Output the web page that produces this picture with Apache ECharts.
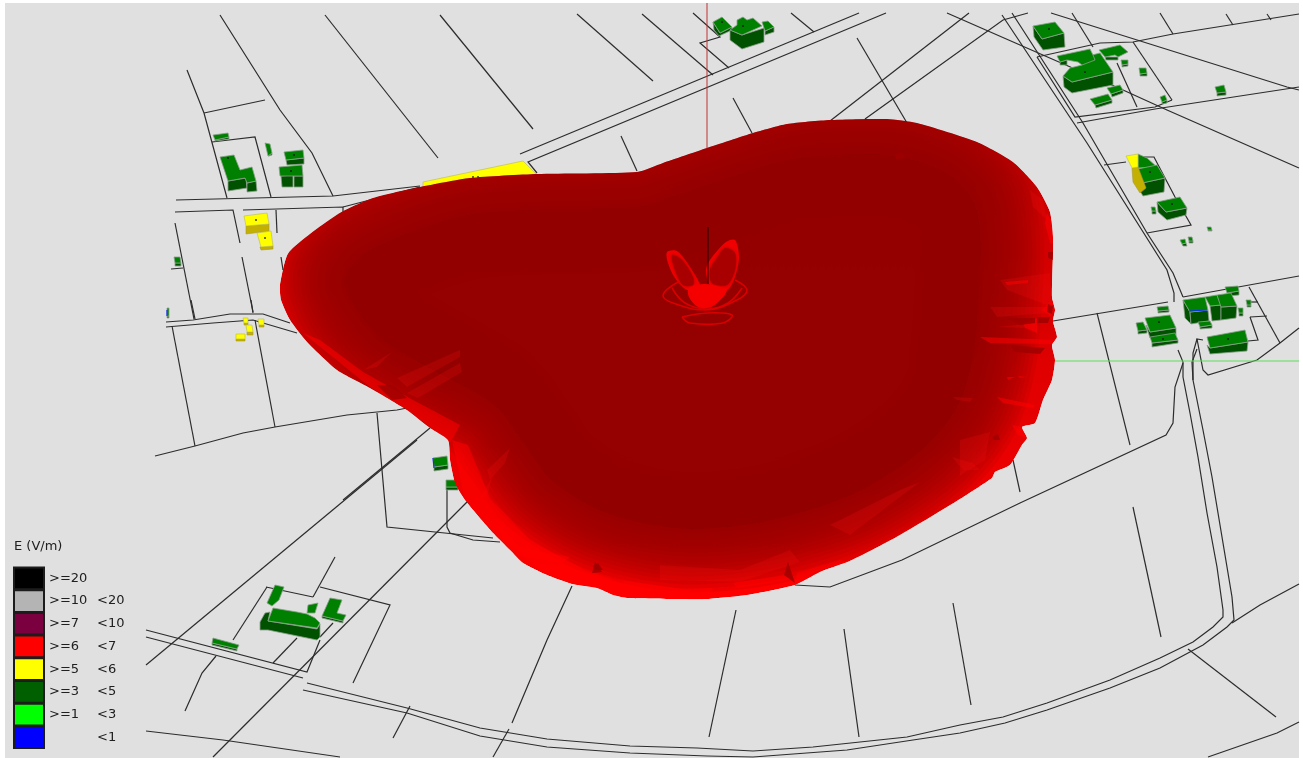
<!DOCTYPE html>
<html><head><meta charset="utf-8">
<style>html,body{margin:0;padding:0;background:#fff}#c{width:1303px;height:758px}#c canvas{filter:blur(.35px)}</style>
<script src="https://cdn.jsdelivr.net/npm/echarts@6/dist/echarts.min.js"></script>
</head><body><div id="c"></div>
<script>
const legendColors=['#000000','#b4b4b4','#7a0040','#ff0000','#ffff00','#006000','#00ff00','#0000ff'];
const legendLow=['>=20','>=10','>=7','>=6','>=5','>=3','>=1',''];
const legendHigh=['','<20','<10','<7','<6','<5','<3','<1'];
const roads=[
[[577,14],[653,81]],[[642,14],[713,75]],[[693,13],[720,37],[700,43],[729,68]],
[[520,154],[859,13]],[[537,173],[528,162],[886,13]],[[791,13],[814,32]],
[[440,15],[533,129]],[[325,15],[438,158]],[[220,15],[280,110],[312,153],[333,196]],
[[621,136],[637,171]],[[733,98],[752,133]],[[857,38],[907,123]],[[830,121],[969,13]],[[865,119],[1003,20],[1028,13]],
[[947,13],[1020,45],[1123,90],[1167,110],[1299,168]],[[1051,13],[1287,87],[1299,90]],
[[1072,13],[1093,47]],[[1160,13],[1173,34]],[[1226,14],[1233,25]],[[1267,14],[1271,20]],
[[1037,57],[1100,43],[1133,42],[1173,34],[1299,14]],
[[1037,57],[1075,117],[1155,107],[1172,100]],[[1077,123],[1155,109],[1299,87]],
[[1133,42],[1172,100]],[[1117,63],[1137,107]],
[[1002,15],[1087,143],[1167,270],[1174,293],[1174,302]],[[1012,13],[1083,123],[1147,233],[1173,273],[1183,297]],
[[1104,165],[1126,162]],[[1143,157],[1154,157],[1175,197],[1191,225],[1147,233]],
[[1183,297],[1299,276]],[[1053,321],[1168,302]],[[1097,313],[1130,445]],
[[1249,287],[1280,343]],[[1250,317],[1267,316]],[[1250,317],[1258,340],[1248,341]],[[1248,302],[1258,302]],
[[1203,340],[1197,339],[1203,370],[1208,375],[1257,360],[1280,343],[1299,328]],
[[1197,339],[1193,353],[1193,380]],
[[1178,350],[1183,362],[1183,377],[1190,413],[1198,457],[1207,513],[1217,567],[1223,610],[1223,617],[1213,627],[1193,642],[1160,658],[1110,680],[1047,703],[1003,717],[960,725],[907,737],[813,747],[753,751],[697,748],[630,746],[547,739],[480,728],[407,708],[307,683]],
[[1197,349],[1192,362],[1193,380],[1203,430],[1212,477],[1223,543],[1232,597],[1234,620],[1227,627],[1203,645],[1160,668],[1110,688],[1047,710],[1005,723],[960,733],[913,740],[847,750],[753,757],[707,756],[630,753],[547,747],[480,736],[407,713],[303,690]],
[[146,630],[307,672],[320,640]],[[146,637],[303,678]],
[[267,587],[233,640]],[[266,587],[313,597]],[[320,587],[390,605],[353,683]],
[[146,665],[417,440]],[[213,757],[467,502]],
[[335,557],[313,597]],[[297,638],[273,663]],[[333,623],[320,637]],
[[216,656],[202,673],[185,711]],[[146,731],[223,740],[340,757]],
[[410,706],[393,738]],[[509,729],[493,757]],[[512,723],[547,640],[572,586]],
[[709,737],[736,610]],[[859,737],[844,629]],[[971,705],[953,603]],
[[795,585],[830,587],[902,560],[960,532],[1020,503],[1166,435],[1173,423],[1175,387],[1183,363]],
[[1133,507],[1161,637]],[[1188,649],[1276,717]],[[1013,460],[1020,492]],
[[1299,584],[1260,605],[1232,623]],[[1299,722],[1277,733],[1208,757]],
[[155,456],[195,446],[243,433],[275,427],[347,415],[397,410],[407,408]],
[[172,326],[195,446]],[[255,320],[275,427]],[[377,413],[387,527],[493,538]],
[[447,490],[447,527],[450,533],[473,540],[500,542]],
[[343,500],[430,428]],
[[166,322],[193,320],[230,314],[263,314],[290,323]],[[166,327],[213,323],[253,320],[297,333]],
[[191,300],[195,319]],[[251,300],[253,313]],
[[176,200],[333,196],[420,186]],[[175,212],[233,210],[240,243]],[[242,257],[253,312]],
[[243,210],[343,207],[343,212]],[[343,207],[420,187]],[[276,210],[277,233]],[[281,257],[283,270]],
[[187,70],[204,113],[227,198]],[[204,113],[265,100]],[[212,142],[255,137],[271,197]],
[[175,223],[194,319]],[[171,269],[183,268]]
];
const greenTops=[
[[1033,26],[1055,22],[1064,33],[1042,39]],
[[1063,76],[1070,68],[1082,65],[1080,58],[1100,53],[1113,72],[1072,82]],
[[1057,56],[1090,49],[1093,55],[1095,60],[1082,65],[1078,62],[1067,60],[1060,62]],
[[1099,50],[1120,45],[1128,52],[1118,57],[1115,55],[1105,57]],
[[1121,60],[1128,60],[1128,64],[1122,65]],
[[1107,88],[1120,85],[1123,90],[1111,94]],[[1090,99],[1108,94],[1112,100],[1095,105]],
[[1139,68],[1146,68],[1147,73],[1140,74]],[[1160,97],[1165,95],[1167,100],[1162,102]],
[[1215,87],[1224,85],[1226,92],[1217,93]],
[[1138,154],[1147,158],[1157,167],[1138,168]],
[[1133,170],[1157,165],[1165,178],[1142,183]],[[1157,202],[1180,197],[1187,208],[1166,212]],
[[1151,207],[1155,207],[1156,211],[1152,211]],[[1207,227],[1211,227],[1212,230],[1208,230]],
[[1180,240],[1185,239],[1186,243],[1182,244]],[[1188,237],[1192,237],[1193,241],[1189,241]],
[[1225,287],[1238,286],[1239,291],[1227,293]],
[[1183,300],[1205,297],[1208,310],[1190,312]],[[1205,297],[1217,295],[1221,305],[1210,306]],
[[1217,295],[1231,293],[1237,306],[1221,307]],[[1198,322],[1210,321],[1212,325],[1200,327]],
[[1246,300],[1251,300],[1251,305],[1247,305]],[[1238,308],[1243,308],[1243,313],[1239,313]],
[[1207,337],[1245,330],[1248,342],[1210,348]],[[1157,307],[1168,306],[1169,310],[1158,311]],
[[1145,318],[1170,315],[1176,328],[1150,332]],[[1150,337],[1175,333],[1178,340],[1152,343]],
[[1136,323],[1143,322],[1147,330],[1138,331]],
[[713,22],[722,17],[732,27],[720,33]],
[[730,30],[737,25],[737,20],[743,17],[747,20],[753,18],[762,26],[742,35]],
[[762,22],[768,21],[774,27],[765,31]],
[[213,135],[228,133],[229,137],[215,140]],[[265,143],[270,144],[272,153],[268,156]],
[[220,157],[234,155],[240,170],[252,167],[256,181],[247,183],[245,178],[228,181]],
[[284,152],[303,150],[304,158],[286,160]],[[279,167],[302,165],[303,176],[280,176]],
[[174,257],[180,257],[181,263],[175,263]],[[167,308],[169,308],[169,316],[167,316]],
[[433,458],[447,456],[448,465],[434,467]],[[446,480],[457,480],[458,487],[446,487]],
[[275,585],[284,587],[279,600],[272,606],[267,603]],
[[273,608],[297,612],[307,614],[315,618],[320,623],[317,628],[268,621]],
[[308,605],[318,603],[315,613],[307,613]],
[[330,598],[342,600],[337,613],[346,615],[343,621],[322,616]],
[[213,638],[239,645],[237,649],[212,643]]
];
const greenSides=[
[[1042,39],[1064,33],[1065,47],[1043,50],[1034,37],[1033,26]],
[[1063,76],[1072,82],[1113,72],[1113,85],[1072,93],[1064,87]],
[[1060,62],[1067,60],[1067,65],[1060,65]],[[1105,57],[1118,57],[1118,60],[1106,60]],
[[1122,65],[1128,64],[1128,66],[1122,67]],[[1111,94],[1123,90],[1123,93],[1112,97]],
[[1095,105],[1112,100],[1112,103],[1096,108]],[[1140,74],[1147,73],[1147,76],[1140,76]],
[[1162,102],[1167,100],[1167,103],[1162,104]],[[1217,93],[1226,92],[1226,95],[1217,96]],
[[1142,183],[1165,178],[1164,192],[1143,196],[1135,183]],
[[1157,202],[1166,212],[1187,208],[1186,215],[1167,220],[1158,212]],
[[1152,211],[1156,211],[1156,214],[1152,214]],[[1208,230],[1212,230],[1212,231],[1208,231]],
[[1182,244],[1186,243],[1187,246],[1183,246]],[[1189,241],[1193,241],[1193,243],[1189,243]],
[[1227,293],[1239,291],[1239,295],[1228,296]],
[[1183,300],[1190,312],[1191,324],[1185,318]],
[[1190,312],[1208,310],[1209,321],[1191,324]],[[1210,306],[1221,305],[1221,320],[1212,321]],
[[1221,307],[1237,306],[1236,318],[1221,320]],[[1200,327],[1212,325],[1212,328],[1200,329]],
[[1247,305],[1251,305],[1251,307],[1247,307]],[[1239,313],[1243,313],[1243,316],[1239,316]],
[[1210,348],[1248,342],[1247,351],[1210,354],[1207,345]],[[1158,311],[1169,310],[1169,312],[1158,313]],
[[1150,332],[1176,328],[1176,335],[1150,338],[1146,325]],[[1152,343],[1178,340],[1178,343],[1152,347]],
[[1138,331],[1147,330],[1147,333],[1138,334]],
[[713,22],[720,33],[732,27],[732,30],[719,36],[714,30]],
[[730,30],[742,35],[764,28],[764,42],[742,49],[730,40]],
[[765,31],[774,27],[774,32],[765,35]],
[[215,140],[229,137],[229,139],[215,141]],[[268,156],[272,153],[272,155],[269,156]],
[[228,181],[246,178],[247,188],[228,191]],[[247,183],[256,181],[257,191],[247,192]],
[[286,160],[304,158],[304,164],[287,165]],[[281,176],[293,175],[293,187],[282,187]],
[[294,176],[303,176],[303,187],[294,187]],
[[175,263],[181,263],[181,266],[175,266]],[[167,316],[169,316],[169,318],[167,318]],
[[434,467],[448,465],[448,469],[434,471]],[[446,487],[458,487],[458,490],[446,490]],
[[268,621],[317,629],[320,624],[320,637],[317,640],[268,630],[260,630],[260,622],[265,613],[270,612]],
[[322,616],[343,621],[343,623],[322,618]],[[212,643],[237,649],[237,651],[212,645]]
];
const yellowTops=[
[[1126,156],[1138,154],[1138,167],[1132,168]],
[[244,216],[267,213],[269,224],[246,226]],[[257,233],[271,231],[273,246],[261,247]],
[[423,182],[523,161],[537,175],[423,190]],
[[243,318],[248,318],[248,323],[244,323]],[[258,319],[264,319],[264,325],[259,325]],
[[246,325],[252,325],[253,332],[247,332]],[[236,334],[245,334],[245,339],[236,339]]
];
const yellowSides=[
[[1132,168],[1138,167],[1146,188],[1140,193],[1133,182]],
[[246,226],[269,224],[269,231],[246,234]],[[260,247],[273,246],[273,249],[261,250]],
[[244,323],[248,323],[248,325],[244,325]],[[259,325],[264,325],[264,327],[259,327]],
[[247,332],[253,332],[253,335],[247,335]],[[236,339],[245,339],[245,341],[236,341]]
];
const blueEdges=[[[1189,311],[1207,310]],[[433,458],[434,468]],[[167,310],[167,316]]];
const roofDots=[[473,177],[478,177],[483,178],[488,178],[256,220],[265,238],[228,158],[294,155],[291,171],[1049,29],[1085,72],[1150,172],[1172,204],[1159,322],[1163,339],[1228,339],[743,26],[722,22]];
const blob=[[280,285],[289,252],[338,214],[373,198],[420,187],[470,178],[537,174],[637,172],[663,163],[707,148],[753,133],[787,124],[830,120],[887,119],[917,123],[977,142],[1013,162],[1037,187],[1050,212],[1053,237],[1053,253],[1052,297],[1055,310],[1053,321],[1057,337],[1052,345],[1055,360],[1052,380],[1043,400],[1035,423],[1022,427],[1027,438],[1022,445],[1010,465],[995,472],[992,478],[960,499],[900,535],[852,560],[820,572],[795,585],[747,595],[707,599],[677,599],[627,598],[613,595],[597,588],[572,584],[547,575],[523,563],[510,550],[493,533],[465,500],[455,483],[450,460],[448,440],[430,428],[407,410],[370,388],[337,370],[307,342],[290,320],[281,300]];
const core=[[345,285],[360,258],[405,235],[470,215],[540,210],[640,207],[672,197],[720,181],[790,160],[880,155],[940,170],[972,200],[980,240],[978,300],[972,360],[955,410],[915,455],[850,495],[760,522],[680,528],[605,512],[552,480],[522,440],[495,405],[425,365],[378,335]];
const streaksBright=[
[[452,440],[465,500],[510,550],[570,583],[627,596],[640,588],[585,570],[530,540],[490,498],[468,445]],
[[627,588],[667,590],[713,588],[710,593],[667,594],[630,592]],
[[733,583],[787,575],[790,580],[737,588]],
[[797,573],[840,560],[850,562],[820,570],[795,582]],
[[530,563],[580,570],[613,580],[593,583],[550,575]],
[[497,523],[520,547],[570,557],[563,563],[527,557],[503,540]],
[[620,580],[690,590],[690,593],[637,592]],
[[303,333],[370,387],[407,410],[430,427],[450,443],[460,425],[413,400],[363,372],[320,340]],
[[1023,323],[1037,318],[1037,333],[1025,328]],
[[1047,213],[1053,223],[1053,243],[1050,243],[1045,223]],
[[1052,300],[1055,310],[1050,316],[1042,310]],
[[1012,425],[1022,427],[1027,438],[1018,435]],
[[997,397],[1035,405],[1033,408],[1003,403]],
[[1007,377],[1015,377],[1008,380]],[[1018,376],[1027,377],[1020,378]],
[[1005,282],[1028,280],[1028,283],[1007,285]],
[[980,337],[1055,340],[1052,344],[990,343]]
];
const streaksMid=[
[[1000,280],[1050,273],[1052,307],[1007,290]],
[[1030,190],[1043,200],[1047,220],[1033,207]],
[[990,307],[1050,307],[1050,313],[997,317]],
[[997,327],[1037,323],[1037,333],[1027,328]],
[[953,397],[973,398],[970,402],[957,400]],
[[952,457],[973,463],[980,470],[963,470]],
[[397,378],[460,350],[460,357],[407,387]],
[[407,393],[460,363],[462,372],[418,398]],
[[363,370],[392,352],[377,367]],
[[487,470],[510,448],[505,463],[490,480]],
[[480,497],[492,477],[487,497]],
[[660,565],[740,570],[790,550],[800,562],[740,582],[660,580]],
[[830,525],[900,490],[920,482],[850,535]],
[[960,440],[990,432],[985,460],[960,476]]
];
const streaksDark=[
[[1005,318],[1035,318],[1035,323],[1020,325]],
[[1037,317],[1050,317],[1048,323],[1037,323]],
[[1048,252],[1053,252],[1053,260],[1048,258]],
[[1048,304],[1053,306],[1052,314],[1047,312]],
[[377,385],[393,385],[407,398],[392,400]],
[[592,573],[595,562],[602,572]],
[[784,575],[788,562],[795,583]],
[[593,566],[598,563],[603,570],[596,570]],
[[992,437],[998,434],[1000,440],[994,440]],
[[895,155],[902,153],[905,158],[896,159]],
[[1010,345],[1045,348],[1040,354],[1015,352]]
];
const petalsOuter=[
[[667,252],[677,251],[692,270],[700,287],[687,290],[675,278],[668,263]],
[[726,242],[735,240],[739,257],[735,277],[727,290],[710,285],[706,270],[710,260]]
];
const petalsInner=[
[[672,255],[682,260],[693,277],[693,285],[683,285],[675,270]],
[[725,248],[735,253],[735,270],[727,285],[712,283],[710,270],[717,258]]
];
const bulb=[[688,290],[703,284],[720,287],[727,290],[717,303],[707,308],[695,305]];
const rings=[
[[678,282],[663,295],[673,303],[707,310],[737,300],[747,290],[735,280]],
[[672,288],[685,303],[707,309],[728,303],[742,288]],
[[682,317],[707,313],[732,315],[723,323],[690,323],[682,317]]
];
const poleAbove=[[707,3],[707,148]];
const poleInside=[[708,227],[708,284]];
const greenAxis=[[1055,361],[1299,361]];
const frame=[[5,3],[1299,3],[1299,758],[5,758]];
const shadeWidths=[128,120,112,104,96,88,80,72,64,56,48,40,32,24,16,8];

function pts(api,p){return p.map(q=>api.coord(q));}
function polySeries(name,polys,style,z,smooth){
  return {type:'custom',name,coordinateSystem:'cartesian2d',clip:false,silent:true,z,
    data:polys.map(p=>p[0]),
    renderItem:(params,api)=>({type:'polygon',shape:{points:pts(api,polys[params.dataIndex]),smooth:smooth||0},style:style})};
}
function lineSeries(name,lines,style,z,smooth){
  return {type:'custom',name,coordinateSystem:'cartesian2d',clip:false,silent:true,z,
    data:lines.map(p=>p[0]),
    renderItem:(params,api)=>({type:'polyline',shape:{points:pts(api,lines[params.dataIndex]),smooth:smooth||0},style:Object.assign({fill:null},style)})};
}
const edge={stroke:'#8d9f8d',lineWidth:0.8};
const blobSeries={type:'custom',name:'field',coordinateSystem:'cartesian2d',clip:false,silent:true,z:5,
  data:[blob[0]],
  renderItem:(params,api)=>{
    const outline=pts(api,blob),inner=pts(api,core),kids=[];
    kids.push({type:'polygon',shape:{points:outline,smooth:.2},style:{fill:{type:'linear',x:0,y:120,x2:0,y2:600,global:true,colorStops:[{offset:0,color:'#c40000'},{offset:.45,color:'#dc0000'},{offset:.8,color:'#f00000'},{offset:1,color:'#ff0000'}]}}});
    shadeWidths.forEach(w=>kids.push({type:'polygon',shape:{points:inner,smooth:.3},style:{fill:'#920000',stroke:'#920000',lineWidth:w,lineJoin:'round',opacity:.13}}));
    kids.push({type:'polygon',shape:{points:inner,smooth:.3},style:{fill:'#920000',opacity:.6}});
    streaksMid.forEach(s=>kids.push({type:'polygon',shape:{points:pts(api,s)},style:{fill:'#ff1010',opacity:.2}}));
    streaksBright.forEach(s=>kids.push({type:'polygon',shape:{points:pts(api,s)},style:{fill:'#ff0000',opacity:.55}}));
    streaksDark.forEach(s=>kids.push({type:'polygon',shape:{points:pts(api,s)},style:{fill:'#a00000',opacity:.85}}));
    return {type:'group',clipPath:{type:'polygon',shape:{points:outline,smooth:.2}},children:kids};
  }};
const series=[
  polySeries('frame',[frame],{fill:'#e0e0e0'},1),
  lineSeries('roads',roads,{stroke:'#2c2c2c',lineWidth:1.2},2),
  polySeries('greenSides',greenSides,Object.assign({fill:'#005200'},edge),3),
  polySeries('greenTops',greenTops,Object.assign({fill:'#008000'},edge),3),
  polySeries('yellowSides',yellowSides,{fill:'#c4b000',stroke:'#a89a30',lineWidth:0.6},3),
  polySeries('yellowTops',yellowTops,{fill:'#ffff00',stroke:'#b8b850',lineWidth:0.6},3),
  lineSeries('blueEdges',blueEdges,{stroke:'#1030f0',lineWidth:1.2},4),
  {type:'scatter',name:'roofDots',data:roofDots,symbolSize:2,itemStyle:{color:'#101010'},silent:true,z:4,clip:false},
  lineSeries('greenAxis',[greenAxis],{stroke:'#58e058',lineWidth:1},4),
  lineSeries('poleAbove',[poleAbove],{stroke:'#c03030',lineWidth:1},4),
  blobSeries,
  lineSeries('rings',rings,{stroke:'#e80000',lineWidth:1.6,opacity:.8},10,.4),
  polySeries('petalsOuter',petalsOuter,{fill:'#f00000'},11,.3),
  polySeries('petalsInner',petalsInner,{fill:'#a80000',shadowColor:'#a80000',shadowBlur:3},12,.3),
  polySeries('bulb',[bulb],{fill:'#f40000'},13,.4),
  lineSeries('poleInside',[poleInside],{stroke:'#200000',lineWidth:1},14),
  {type:'custom',name:'legend',coordinateSystem:'cartesian2d',clip:false,silent:true,z:20,
   data:legendColors.map((c,i)=>[13,567+i*22.7]),
   renderItem:(params,api)=>{
     const i=params.dataIndex,a=api.coord([14,567.5+i*22.7]),b=api.coord([44,589.2+i*22.7]);
     const f={fontFamily:'DejaVu Sans',fontSize:13,fill:'#202020',verticalAlign:'middle'};
     const my=(a[1]+b[1])/2;
     return {type:'group',children:[
       {type:'rect',shape:{x:a[0],y:a[1],width:b[0]-a[0],height:b[1]-a[1]},style:{fill:legendColors[i],stroke:'#1c1c1c',lineWidth:2}},
       {type:'text',style:Object.assign({x:49,y:my,text:legendLow[i]},f)},
       {type:'text',style:Object.assign({x:97,y:my,text:legendHigh[i]},f)}
     ]};
   }},
  {type:'custom',name:'legendTitle',coordinateSystem:'cartesian2d',clip:false,silent:true,z:20,
   data:[[14,547]],
   renderItem:(params,api)=>{const p=api.coord([14,547]);return {type:'text',style:{x:p[0],y:p[1],text:'E (V/m)',fontFamily:'DejaVu Sans',fontSize:13,fill:'#202020',verticalAlign:'middle'}};}}
];
const chart=echarts.init(document.getElementById('c'),null,{renderer:'canvas'});
chart.setOption({animation:false,backgroundColor:'#ffffff',
  grid:{left:0,right:0,top:0,bottom:0},
  xAxis:{type:'value',min:0,max:1303,show:false},
  yAxis:{type:'value',min:0,max:758,inverse:true,show:false},
  series});
</script></body></html>
